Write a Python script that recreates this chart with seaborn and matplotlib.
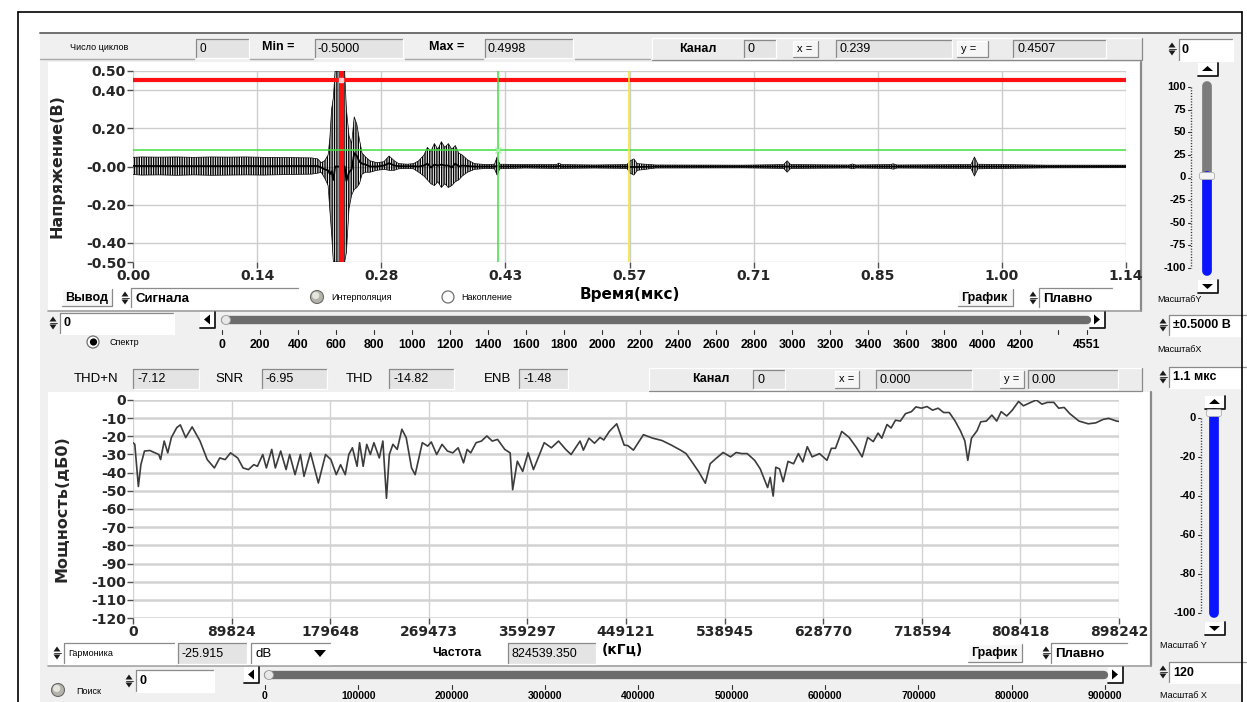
import numpy as np
import pandas as pd
import matplotlib
matplotlib.use("Agg")
import matplotlib.pyplot as plt
from matplotlib.patches import Rectangle, Circle, Polygon, FancyBboxPatch
import seaborn as sns

# ---------------- oscillogram (time in µs, envelope in V) ----------------
sig_t = [0.000, 0.010, 0.030, 0.050, 0.070, 0.090, 0.110, 0.130, 0.150, 0.170,
         0.190, 0.205, 0.212, 0.216, 0.220, 0.224, 0.226, 0.228, 0.230, 0.232,
         0.243, 0.245, 0.248, 0.251, 0.254, 0.257, 0.260, 0.263, 0.267, 0.272,
         0.280, 0.288, 0.294, 0.300, 0.305, 0.315, 0.322, 0.328, 0.334, 0.338,
         0.342, 0.346, 0.350, 0.354, 0.358, 0.362, 0.366, 0.370, 0.374, 0.378,
         0.384, 0.392, 0.405, 0.415, 0.418, 0.421, 0.450, 0.486, 0.489, 0.492,
         0.530, 0.567, 0.571, 0.575, 0.579, 0.600, 0.700, 0.747, 0.751, 0.755,
         0.822, 0.826, 0.830, 0.869, 0.873, 0.877, 0.962, 0.966, 0.970, 1.050,
         1.140]
sig_hi = [0.048, 0.050, 0.049, 0.050, 0.048, 0.050, 0.049, 0.050, 0.048, 0.047,
          0.046, 0.045, 0.040, 0.020, 0.030, 0.060, 0.150, 0.300, 0.360, 0.4998,
          0.4998, 0.300, 0.160, 0.120, 0.260, 0.220, 0.140, 0.070, 0.050, 0.030,
          0.020, 0.025, 0.055, 0.030, 0.015, 0.012, 0.015, 0.030, 0.060, 0.100,
          0.080, 0.120, 0.090, 0.130, 0.100, 0.120, 0.090, 0.110, 0.070, 0.060,
          0.035, 0.015, 0.010, 0.012, 0.050, 0.012, 0.010, 0.010, 0.018, 0.010,
          0.008, 0.010, 0.030, 0.040, 0.015, 0.008, 0.007, 0.010, 0.030, 0.010,
          0.008, 0.013, 0.008, 0.010, 0.014, 0.008, 0.010, 0.050, 0.012, 0.007,
          0.007]
sig_lo = [-0.042, -0.045, -0.044, -0.046, -0.044, -0.046, -0.045, -0.044, -0.045, -0.043,
          -0.041, -0.040, -0.035, -0.030, -0.060, -0.100, -0.230, -0.350, -0.500, -0.500,
          -0.500, -0.450, -0.220, -0.150, -0.120, -0.110, -0.090, -0.040, -0.030, -0.030,
          -0.020, -0.015, -0.020, -0.020, -0.012, -0.010, -0.012, -0.030, -0.050, -0.070,
          -0.090, -0.100, -0.080, -0.110, -0.090, -0.110, -0.100, -0.080, -0.070, -0.050,
          -0.030, -0.015, -0.010, -0.012, -0.045, -0.012, -0.008, -0.010, -0.012, -0.010,
          -0.008, -0.010, -0.035, -0.045, -0.020, -0.008, -0.007, -0.010, -0.030, -0.010,
          -0.008, -0.012, -0.008, -0.010, -0.014, -0.008, -0.010, -0.050, -0.012, -0.007,
          -0.006]

time_labels = ["0.00", "0.14", "0.28", "0.43", "0.57", "0.71", "0.85", "1.00", "1.14"]
time_max = 1.14
volt_ticks = [0.5, 0.4, 0.2, 0.0, -0.2, -0.4, -0.5]
volt_labels = ["0.50", "0.40", "0.20", "-0.00", "-0.20", "-0.40", "-0.50"]

# cursors on the oscillogram
cursor_x, cursor_y = 0.239, 0.4507
cursor2_x, cursor2_y = 0.419, 0.085
marker_t = 0.569
sig_min, sig_max = -0.5000, 0.4998

# ---------------- spectrum ----------------
freq_hz = [0, 1633, 4899, 7185, 10451, 15350, 20249, 23515, 25148, 28414,
           31680, 34946, 39845, 43111, 48010, 53889, 61074, 67606, 74138, 79037,
           83936, 88835, 95367, 100266, 105165, 110064, 113330, 118229, 121495, 126394,
           129660, 134559, 139458, 142724, 147623, 152522, 155788, 161667, 168852, 175384,
           180283, 185182, 189101, 193347, 196613, 199879, 204125, 206411, 209677, 212943,
           216209, 219475, 224374, 227640, 230906, 233519, 236785, 240704, 244950, 248869,
           253768, 257034, 263566, 268465, 271731, 276630, 281529, 286428, 291327, 296226,
           301125, 304391, 307657, 312556, 317455, 322354, 327253, 332152, 338684, 343583,
           345869, 350115, 355014, 359913, 364812, 369711, 374610, 381142, 387674, 394206,
           399105, 407270, 410285, 415350, 420416, 425482, 428859, 433924, 440678, 447433,
           450810, 455875, 465006, 473449, 481891, 490334, 498776, 503842, 508907, 515661,
           521402, 525792, 530858, 537612, 544366, 549431, 554497, 559562, 566316, 571382,
           578136, 580500, 583201, 585565, 588942, 592319, 596709, 601775, 606165, 610217,
           614270, 618660, 625414, 632168, 636220, 639935, 645675, 652429, 659183, 664249,
           669314, 674380, 678770, 682147, 686875, 690589, 694642, 699032, 703760, 709163,
           713215, 718281, 723346, 728412, 733477, 738543, 743608, 748674, 753740, 757792,
           760494, 763871, 768936, 772313, 777379, 782444, 786834, 790887, 795952, 801018,
           806759, 811149, 817903, 822968, 828034, 833099, 838840, 843230, 848296, 853361,
           861804, 870246, 877000, 883754, 888820, 895912, 898242]
power_db = [-23.5, -24.4, -47.6, -35.6, -28.1, -27.8, -29.1, -30.0, -32.8, -22.6,
            -29.1, -20.7, -15.2, -13.7, -20.7, -14.8, -22.6, -32.8, -37.4, -31.9,
            -32.8, -29.1, -31.9, -37.4, -38.3, -35.6, -36.5, -30.0, -37.4, -27.2,
            -37.4, -28.1, -38.3, -30.0, -41.1, -30.0, -42.0, -29.1, -45.7, -30.0,
            -32.8, -41.1, -35.6, -41.1, -30.0, -26.3, -36.5, -23.5, -36.5, -24.4,
            -30.0, -23.5, -31.9, -22.6, -54.1, -30.0, -24.4, -27.2, -16.1, -20.7,
            -37.4, -41.1, -23.5, -25.4, -23.1, -30.0, -24.4, -28.1, -29.1, -26.3,
            -34.6, -27.2, -29.1, -23.5, -22.6, -19.8, -22.6, -21.7, -27.2, -29.1,
            -49.4, -33.7, -39.3, -29.1, -38.3, -30.9, -23.5, -26.3, -22.6, -27.2,
            -30.0, -22.6, -27.6, -21.0, -23.8, -20.6, -22.0, -17.3, -13.1, -24.8,
            -25.1, -27.6, -19.1, -21.0, -22.3, -24.8, -27.6, -29.5, -33.8, -39.8,
            -45.8, -35.1, -32.3, -28.9, -31.3, -28.9, -29.5, -29.5, -33.2, -37.9,
            -48.2, -42.6, -52.9, -37.0, -37.9, -45.0, -33.8, -35.1, -29.5, -34.1,
            -25.7, -31.3, -29.5, -33.2, -26.6, -26.6, -17.3, -20.6, -26.3, -31.3,
            -20.6, -22.9, -18.2, -21.0, -13.5, -15.4, -11.1, -11.6, -7.5, -6.4,
            -3.8, -4.5, -3.6, -5.6, -4.5, -6.9, -6.9, -11.3, -16.9, -22.5,
            -33.2, -21.0, -16.9, -12.0, -11.6, -8.3, -11.6, -6.4, -8.8, -5.6,
            -0.8, -3.2, -1.3, 0.0, -2.3, -1.3, -1.3, -4.5, -4.1, -7.5,
            -11.6, -13.1, -12.6, -10.7, -10.1, -11.6, -11.8]
freq_labels = ["0", "89824", "179648", "269473", "359297", "449121",
               "538945", "628770", "718594", "808418", "898242"]
freq_max = 898242
db_ticks = [0, -10, -20, -30, -40, -50, -60, -70, -80, -90, -100, -110, -120]

# scroll bars and sliders
sample_labels = [0, 200, 400, 600, 800, 1000, 1200, 1400, 1600, 1800, 2000,
                 2200, 2400, 2600, 2800, 3000, 3200, 3400, 3600, 3800, 4000, 4200]
sample_total = 4551
freq_scroll_labels = [0, 100000, 200000, 300000, 400000, 500000,
                      600000, 700000, 800000, 900000]
gain_labels = [100, 75, 50, 25, 0, -25, -50, -75, -100]
db_scale_labels = [0, -20, -40, -60, -80, -100]

# ---------------------------------------------------------------------------
sns.set_theme(style="white")
plt.rcParams["font.family"] = ["DejaVu Sans"]
plt.rcParams["hatch.linewidth"] = 1.0

W, H = 1247, 702
fig = plt.figure(figsize=(W / 100, H / 100), dpi=100)
fig.patch.set_facecolor("white")
ui = fig.add_axes([0, 0, 1, 1])
ui.set_xlim(0, W)
ui.set_ylim(H, 0)
ui.axis("off")

PANEL = "#f0f0f0"
FIELD = "#e4e4e4"
NARROW = ["Liberation Sans Narrow", "Liberation Sans", "DejaVu Sans"]


def rect(x0, y0, x1, y1, fc, z=1):
    ui.add_patch(Rectangle((x0, y0), x1 - x0, y1 - y0, facecolor=fc, edgecolor="none", zorder=z))


def box(x0, y0, x1, y1, fc, edge="sunken", z=2):
    rect(x0, y0, x1, y1, fc, z)
    dark, light = ("#8a8a8a", "#ffffff") if edge == "sunken" else ("#ffffff", "#8a8a8a")
    ui.plot([x0, x0, x1], [y1, y0, y0], color=dark, lw=0.9, zorder=z + 0.1)
    ui.plot([x0, x1, x1], [y1, y1, y0], color=light, lw=0.9, zorder=z + 0.1)


def txt(x, y, s, size=8, bold=False, ha="left", fam=None, color="black", z=6):
    ui.text(x, y, s, fontsize=size, fontweight="bold" if bold else "normal", ha=ha,
            va="center", family=fam or NARROW, color=color, zorder=z)


def spin(x, y):
    ui.add_patch(Polygon([[x - 3.5, y - 1.5], [x + 3.5, y - 1.5], [x, y - 6.5]], closed=True,
                         fc="#1a1a1a", ec="none", zorder=6))
    ui.add_patch(Polygon([[x - 3.5, y + 1.5], [x + 3.5, y + 1.5], [x, y + 6.5]], closed=True,
                         fc="#1a1a1a", ec="none", zorder=6))
    ui.plot([x - 3.5, x + 3.5], [y, y], color="#1a1a1a", lw=0.6, zorder=6)


def led(x, y, r=6.5):
    ui.add_patch(Circle((x, y), r, fc="#b4b4ac", ec="#6a6a6a", lw=0.8, zorder=5))
    ui.add_patch(Circle((x - 1.3, y - 1.5), r * 0.55, fc="#e6e6de", ec="none", zorder=5.1))


def radio(x, y, selected=False):
    ui.add_patch(Circle((x, y), 6, fc="white", ec="#707070", lw=0.9, zorder=5))
    if selected:
        ui.add_patch(Circle((x + 0.5, y), 3.6, fc="black", ec="none", zorder=5.1))


def arrow_btn(x0, y0, x1, y1, d):
    rect(x0, y0, x1, y1, "white", 4)
    ui.plot([x0, x1, x1], [y1, y1, y0], color="#1a1a1a", lw=1.3, zorder=4.5)
    cx, cy = (x0 + x1) / 2 - 0.5, (y0 + y1) / 2 - 0.5
    pts = {"left": [(cx + 3, cy - 5), (cx + 3, cy + 5), (cx - 3, cy)],
           "right": [(cx - 3, cy - 5), (cx - 3, cy + 5), (cx + 3, cy)],
           "up": [(cx - 5.5, cy + 2), (cx + 5.5, cy + 2), (cx, cy - 3)],
           "down": [(cx - 5.5, cy - 2), (cx + 5.5, cy - 2), (cx, cy + 3)]}[d]
    ui.add_patch(Polygon(pts, closed=True, fc="black", ec="none", zorder=5))


def hscroll(x0, x1, y, btn_l, btn_r, ticks_px, labels, lab_y, extra_px=(), lab_size=7.5):
    arrow_btn(btn_l, y - 8, btn_l + 15, y + 8, "left")
    arrow_btn(btn_r, y - 8, btn_r + 15, y + 8, "right")
    ui.plot([x0 + 3, x1 - 3], [y, y], color="#6c6c6c", lw=6, solid_capstyle="round", zorder=4)
    ui.add_patch(Circle((x0 + 4, y), 4.5, fc="#e8e8e8", ec="#9a9a9a", lw=0.6, zorder=4.5))
    for px, lab in zip(ticks_px, labels):
        ui.plot([px, px], [y + 10, y + 14], color="#303030", lw=0.8, zorder=4)
        txt(px, lab_y, lab, lab_size, bold=True, ha="center")
    for px in extra_px:
        ui.plot([px, px], [y + 10, y + 14], color="#303030", lw=0.8, zorder=4)


def vslider(xc, btn_top, y_top, y_bot, y_thumb, labels, lab_top, lab_bot, lab_x):
    arrow_btn(xc - 9, btn_top, xc + 11, btn_top + 13, "up")
    arrow_btn(xc - 9, y_bot + 5, xc + 11, y_bot + 18, "down")
    if y_thumb > y_top + 2:
        ui.plot([xc, xc], [y_top + 4, y_thumb], color="#7c7c7c", lw=7, solid_capstyle="round", zorder=4)
    ui.plot([xc, xc], [y_thumb, y_bot - 4], color="#0a14ff", lw=7, solid_capstyle="round", zorder=4)
    ui.add_patch(FancyBboxPatch((xc - 7, y_thumb - 3), 14, 6, boxstyle="round,pad=0.5,rounding_size=2",
                                fc="#f4f4f4", ec="#b0b0b0", lw=0.6, zorder=4.6))
    ys = np.linspace(lab_top, lab_bot, len(labels))
    for v, yy in zip(labels, ys):
        txt(lab_x, yy, str(v), 8, bold=True, ha="right")
        ui.plot([lab_x + 1.5, lab_x + 4], [yy, yy], color="#303030", lw=0.8, zorder=4)
    ui.plot([lab_x + 5, lab_x + 5], [lab_top, lab_bot], color="#303030", lw=1,
            ls=(0, (0.8, 1.2)), zorder=4)


# ---------------- frame and panels ----------------
rect(40, 32, 1241, 702, PANEL, 0.5)
ui.plot([40, 1241], [33, 33], color="#707070", lw=1.4, zorder=1)
ui.plot([18, 1242], [12, 12], color="black", lw=1.2, zorder=8)
ui.plot([18, 18], [12, 702], color="black", lw=1.2, zorder=8)
ui.plot([1242, 1242], [12, 702], color="black", lw=1.2, zorder=8)

# plot panels
rect(48, 62, 1140, 310, "white", 1)
ui.plot([1141, 1141], [62, 311], color="#8a8a8a", lw=1.6, zorder=1.2)
ui.plot([48, 1141], [311, 311], color="#a0a0a0", lw=1.2, zorder=1.2)
rect(48, 392, 1150, 665, "white", 1)
ui.plot([1151, 1151], [392, 666], color="#8a8a8a", lw=1.6, zorder=1.2)
ui.plot([48, 1151], [666, 666], color="#a0a0a0", lw=1.2, zorder=1.2)

# ---------------- top status row ----------------
for a, b in [(40, 194), (250, 313), (405, 483), (575, 650)]:
    ui.plot([a, b], [59, 59], color="#a8a8a8", lw=1, zorder=1.5)
txt(70, 47, "Число циклов", 6.5)
box(196, 39, 249, 58, FIELD); txt(199, 48.5, "0", 8.5)
txt(262, 47, "Min =", 9, bold=True)
box(315, 39, 403, 58, FIELD); txt(318, 48.5, f"{sig_min:.4f}", 9)
txt(429, 47, "Max =", 9, bold=True)
box(485, 39, 573, 58, FIELD); txt(488, 48.5, f"{sig_max:.4f}", 9)

box(652, 38, 1142, 60, "#ececec", edge="raised")
txt(679, 49, "Канал", 9, bold=True)
box(744, 40, 776, 58, FIELD); txt(747, 49.5, "0", 9)
box(793, 41, 818, 57, "#f6f6f6", edge="raised"); txt(797, 49, "x =", 8)
box(836, 40, 952, 58, FIELD); txt(839, 49.5, f"{cursor_x:.3f}", 9)
box(957, 41, 988, 57, "#f6f6f6", edge="raised"); txt(961, 49, "y =", 8)
box(1013, 40, 1106, 58, FIELD); txt(1017, 49.5, f"{cursor_y:.4f}", 9)

spin(1172, 49)
box(1179, 39, 1233, 61, "white"); txt(1182, 50, "0", 9, bold=True)

# ---------------- oscillogram axes ----------------
def axes_px(x0, y0, x1, y1):
    return [x0 / W, 1 - y1 / H, (x1 - x0) / W, (y1 - y0) / H]


ax1 = fig.add_axes(axes_px(133, 71, 1126, 262))
sig = pd.DataFrame({"t": sig_t, "hi": sig_hi, "lo": sig_lo})
sig["mid"] = (sig["hi"] + sig["lo"]) / 2
ax1.fill_between(sig["t"], sig["lo"], sig["hi"], facecolor="none", edgecolor="black",
                 hatch="|||||||", lw=0, zorder=3)
sns.lineplot(data=sig, x="t", y="hi", ax=ax1, color="black", lw=0.5, zorder=3)
sns.lineplot(data=sig, x="t", y="lo", ax=ax1, color="black", lw=0.5, zorder=3)
sns.lineplot(data=sig, x="t", y="mid", ax=ax1, color="black", lw=1.3, zorder=3)

ax1.axhline(cursor_y, color="#ff1010", lw=3, zorder=5)
ax1.axvline(cursor_x, color="#ff1010", lw=3.5, zorder=5)
ax1.axhline(cursor2_y, color="#3ee03e", lw=1.1, zorder=5)
ax1.axvline(cursor2_x, color="#3ee03e", lw=1.1, zorder=5)
ax1.axvline(marker_t, color="#f2e63a", lw=1.2, zorder=5)
ax1.plot([cursor2_x], [cursor2_y], marker="x", ms=4, mew=1, color="#aef0ae", zorder=6)
ax1.plot([cursor_x], [cursor_y], marker="s", ms=3, mfc="#ffd0d0", mec="#ffd0d0", zorder=6)

ax1.set_xlim(0, time_max)
ax1.set_ylim(-0.5, 0.5)
ax1.set_xticks(np.linspace(0, time_max, len(time_labels)))
ax1.set_xticklabels(time_labels)
ax1.set_yticks(volt_ticks)
ax1.set_yticklabels(volt_labels)
ax1.set_xlabel("")
ax1.set_ylabel("Напряжение(В)", fontsize=11.5, fontweight="bold")
ax1.yaxis.set_label_coords((65 - 133) / 993, 0.5)

# ---------------- spectrum axes ----------------
ax2 = fig.add_axes(axes_px(133, 400, 1119, 618))
spec = pd.DataFrame({"f": freq_hz, "db": power_db})
sns.lineplot(data=spec, x="f", y="db", ax=ax2, color="#3c3c3c", lw=1.2, zorder=3)
ax2.set_xlim(0, freq_max)
ax2.set_ylim(-120, 0)
ax2.set_xticks(np.linspace(0, freq_max, len(freq_labels)))
ax2.set_xticklabels(freq_labels)
ax2.set_yticks(db_ticks)
ax2.set_yticklabels([str(v) for v in db_ticks])
ax2.set_xlabel("")
ax2.set_ylabel("Мощность(дБ0)", fontsize=11.5, fontweight="bold")
ax2.yaxis.set_label_coords((70 - 133) / 986, 0.5)

for ax in (ax1, ax2):
    ax.set_facecolor("white")
    for s in ax.spines.values():
        s.set_visible(False)
    ax.tick_params(axis="both", which="major", bottom=True, left=True, length=4, width=1,
                   color="#505050", direction="out", labelsize=10, pad=1)
    for lab in ax.get_xticklabels() + ax.get_yticklabels():
        lab.set_fontweight("bold")
ax1.grid(True, color="#cdcdcd", lw=1)
ax2.yaxis.grid(True, color="#d2d2d2", lw=1.8)
ax2.xaxis.grid(True, color="#d2d2d2", lw=1)
ax1.set_axisbelow(True)
ax2.set_axisbelow(True)

# ---------------- controls under the oscillogram ----------------
box(62, 289, 112, 306, "#f6f6f6", edge="raised"); txt(65, 297.5, "Вывод", 9, bold=True)
spin(125, 298)
box(131, 288, 299, 308, "white"); txt(135, 298.5, "Сигнала", 9.5, bold=True)
led(317, 297); txt(331, 297.5, "Интерполяция", 6.5)
radio(448, 297); txt(461, 297.5, "Накопление", 6.5)
txt(630, 295, "Время(мкс)", 11, bold=True, ha="center", fam=["DejaVu Sans"])
box(958, 289, 1013, 306, "#f6f6f6", edge="raised"); txt(961, 297.5, "График", 9, bold=True)
spin(1033, 298)
box(1039, 288, 1113, 308, "white"); txt(1043, 298.5, "Плавно", 9.5, bold=True)

spin(53, 323)
box(60, 313, 174, 334, "white"); txt(64, 323.5, "0", 9, bold=True)
radio(93, 342, selected=True); txt(110, 342.5, "Спектр", 6.5)

s0, s1 = 222, 1087
hscroll(s0, s1 + 3, 320, 200, 1090,
        [s0 + v / sample_total * (s1 - s0) for v in sample_labels] + [s1],
        [str(v) for v in sample_labels] + [str(sample_total)], 345,
        extra_px=[s0 + 4400 / sample_total * (s1 - s0)], lab_size=8.8)

# spectral figures of merit
txt(74, 379, "THD+N", 9.5)
box(133, 369, 199, 389, FIELD); txt(137, 379.5, "-7.12", 9)
txt(215, 379, "SNR", 9.5)
box(262, 369, 327, 389, FIELD); txt(266, 379.5, "-6.95", 9)
txt(346, 379, "THD", 9.5)
box(389, 369, 454, 389, FIELD); txt(393, 379.5, "-14.82", 9)
txt(484, 379, "ENB", 9.5)
box(519, 369, 568, 389, FIELD); txt(523, 379.5, "-1.48", 9)

box(649, 368, 1142, 391, "#ececec", edge="raised")
txt(692, 379.5, "Канал", 9, bold=True)
box(753, 370, 785, 389, FIELD); txt(757, 380, "0", 9)
box(835, 371, 859, 388, "#f6f6f6", edge="raised"); txt(839, 379.5, "x =", 8)
box(876, 370, 972, 389, FIELD); txt(880, 380, "0.000", 9)
box(1000, 371, 1024, 388, "#f6f6f6", edge="raised"); txt(1004, 379.5, "y =", 8)
box(1028, 370, 1118, 389, FIELD); txt(1032, 380, "0.00", 9)

# ---------------- right-hand scale controls ----------------
vslider(1207, 63, 82, 275, 176, gain_labels, 87, 268, 1186)
txt(1157, 300, "МасштабY", 6.5)
spin(1163, 325)
box(1169, 315, 1247, 336, "white"); txt(1173, 325.5, "±0.5000 В", 9, bold=True)
txt(1157, 350, "МасштабX", 6.5)
spin(1163, 377)
box(1169, 367, 1247, 388, "white"); txt(1173, 377.5, "1.1 мкс", 9, bold=True)

vslider(1214, 396, 413, 617, 413, db_scale_labels, 418, 613, 1196)
txt(1160, 645, "Масштаб Y", 6.5)
spin(1163, 672)
box(1169, 662, 1247, 683, "white"); txt(1173, 672.5, "120", 9, bold=True)
txt(1160, 696, "Масштаб X", 6.5)

# ---------------- controls under the spectrum ----------------
spin(57, 653)
box(64, 643, 175, 664, "white"); txt(68, 653.5, "Гармоника", 6.5)
box(178, 643, 247, 664, FIELD); txt(182, 654, "-25.915", 9)
box(251, 643, 331, 664, "white"); txt(255, 654, "dB", 9.5)
ui.add_patch(Polygon([[314, 650], [326, 650], [320, 657]], closed=True, fc="black", ec="none", zorder=6))
txt(432, 653.5, "Частота", 9, bold=True)
box(508, 643, 596, 664, FIELD); txt(512, 654, "824539.350", 9)
txt(622, 650, "(кГц)", 10, bold=True, ha="center", fam=["DejaVu Sans"])
box(968, 644, 1022, 662, "#f6f6f6", edge="raised"); txt(971, 653, "График", 9, bold=True)
spin(1046, 653)
box(1051, 643, 1128, 664, "white"); txt(1055, 654, "Плавно", 9.5, bold=True)

led(58, 690); txt(76, 692, "Поиск", 6.5)
spin(129, 681)
box(136, 670, 214, 692, "white"); txt(140, 681, "0", 9, bold=True)
f0, f1 = 265, 1105
hscroll(f0, f1 + 2, 675, 244, 1108,
        [f0 + v / 900000 * (f1 - f0) for v in freq_scroll_labels],
        [str(v) for v in freq_scroll_labels], 696, lab_size=7.5)

fig.savefig("out.png", dpi=100, facecolor=fig.get_facecolor())
